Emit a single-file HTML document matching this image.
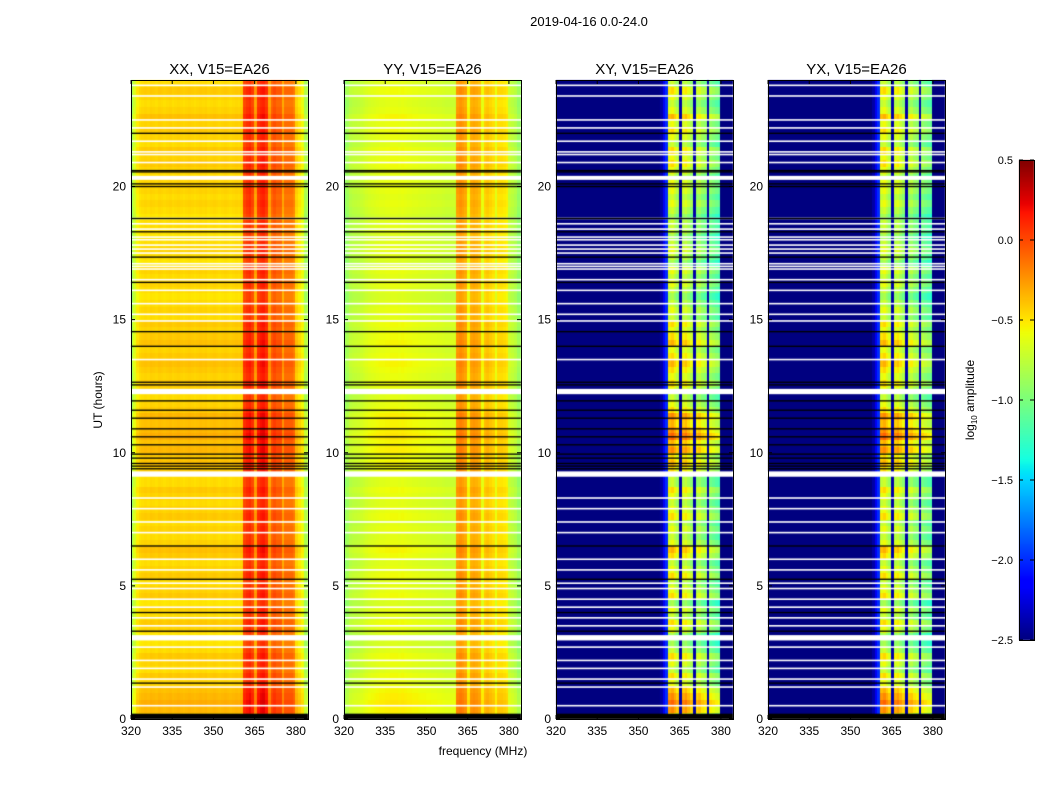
<!DOCTYPE html>
<html><head><meta charset="utf-8">
<style>
html,body{margin:0;padding:0;background:#fff;}
#wrap{position:relative;width:1050px;height:800px;font-family:"Liberation Sans",sans-serif;}
canvas,svg{position:absolute;left:0;top:0;}
</style></head>
<body>
<div id="wrap">
<canvas id="cv" width="1050" height="800"></canvas>
<svg id="sv" width="1050" height="800"></svg>
</div>
<script>
// ---- data ----
const panelTitles = ["XX, V15=EA26","YY, V15=EA26","XY, V15=EA26","YX, V15=EA26"];
const freqTicks = [320,335,350,365,380];
const timeTicks = [0,5,10,15,20];
const cbarTicks = [0.5,0.0,-0.5,-1.0,-1.5,-2.0,-2.5];
// log10 amplitude per 1 MHz channel starting at 320 MHz (64 channels)
const profileXX = [-0.9,-0.7,-0.55,-0.5,-0.48,-0.47,-0.48,-0.46,-0.47,-0.48,-0.46,-0.47,-0.48,-0.47,-0.46,-0.48,-0.47,-0.46,-0.47,-0.48,-0.47,-0.46,-0.47,-0.48,-0.47,-0.46,-0.47,-0.46,-0.48,-0.47,-0.46,-0.47,-0.48,-0.47,-0.46,-0.47,-0.48,-0.47,-0.46,-0.47,-0.45,0.0,0.05,0.08,0.0,-0.3,0.05,0.1,0.12,0.05,-0.3,-0.1,-0.05,-0.1,-0.1,-0.32,-0.15,-0.15,-0.15,-0.2,-0.45,-0.52,-0.6,-0.85];
const profileYY = [-0.95,-0.88,-0.8,-0.78,-0.77,-0.76,-0.74,-0.72,-0.7,-0.68,-0.67,-0.66,-0.65,-0.64,-0.64,-0.63,-0.63,-0.62,-0.62,-0.62,-0.63,-0.62,-0.63,-0.64,-0.64,-0.65,-0.65,-0.66,-0.67,-0.67,-0.68,-0.68,-0.69,-0.69,-0.7,-0.7,-0.71,-0.72,-0.72,-0.72,-0.72,-0.28,-0.25,-0.28,-0.32,-0.58,-0.34,-0.32,-0.34,-0.38,-0.62,-0.45,-0.42,-0.46,-0.5,-0.64,-0.5,-0.5,-0.52,-0.55,-0.75,-0.78,-0.82,-0.92];
const profileXY = [-2.6,-2.55,-2.5,-2.5,-2.55,-2.5,-2.55,-2.6,-2.55,-2.6,-2.6,-2.6,-2.55,-2.6,-2.6,-2.6,-2.6,-2.6,-2.6,-2.6,-2.6,-2.6,-2.6,-2.6,-2.6,-2.6,-2.6,-2.6,-2.6,-2.6,-2.6,-2.6,-2.6,-2.6,-2.6,-2.6,-2.6,-2.5,-2.4,-2.2,-2.0,-0.75,-0.7,-0.8,-0.9,-2.4,-0.8,-0.75,-0.85,-0.95,-2.4,-0.95,-0.9,-1.0,-1.05,-2.4,-1.05,-1.1,-1.15,-1.2,-2.6,-2.6,-2.6,-2.6];
const profileYX = profileXY;
// per 0.25 h row offset, 0 h upward (96 rows)
const rowOffset = [0.1,0.2,0.25,0.2, 0.15,0.05,0.1,0.0, 0.05,0.1,0.0,-0.05, -0.05,0.05,0.1,0.0, 0.05,-0.05,0.1,0.05, 0.0,0.1,0.05,0.0, 0.1,0.15,0.05,0.0, 0.05,0.0,0.1,0.05, 0.0,0.05,0.1,0.0, 0.0,0.1,0.15,0.1, 0.2,0.15,0.25,0.2, 0.15,0.2,0.1,0.05, 0.0,0.05,0.1,0.05, 0.1,0.15,0.1,0.05, 0.15,0.1,0.05,0.1, 0.0,0.05,0.0,-0.05, 0.0,0.05,0.0,0.05, -0.05,0.0,0.05,0.0, -0.05,0.0,0.0,-0.05, 0.0,0.05,0.0,0.05, 0.05,0.0,0.05,0.1, 0.05,0.1,0.0,0.05, 0.1,0.05,0.15,0.05, 0.0,0.05,0.1,0.0];
const rowScale = [0.6,0.5,2.5,2.5];
const whiteThin = [23.8,23.4,22.5,22.2,21.7,21.3,21.2,20.9,18.8,18.6,18.4,18.1,18.0,17.8,17.65,17.5,17.1,17.0,16.9,16.5,16.1,15.6,15.2,14.95,13.5,8.3,7.9,7.4,7.0,6.0,5.6,5.1,4.9,4.5,4.2,3.8,3.5,2.7,2.2,1.9,1.5,1.2,0.5];
const whiteThick = [[20.25,20.4],[12.2,12.4],[9.1,9.3],[2.95,3.15]];
const blackLines = [22.0,20.6,20.55,20.1,20.0,18.8,18.3,17.35,16.4,14.55,14.0,12.65,12.55,11.95,11.6,11.3,10.9,10.6,10.3,9.95,9.8,9.6,9.5,9.4,6.5,5.25,4.0,3.3,1.35];
const blackBands = [[0,0.2]];

// ---- layout ----
const panelX = [131,344,556,768], PW = 177, PT = 80, PB = 719;
const FMIN = 320, FMAX = 384.4, TMIN = 0, TMAX = 24;
const VMIN = -2.5, VMAX = 0.5;
const profiles = [profileXX,profileYY,profileXY,profileYX];
function xs(p,f){return panelX[p] + (f-FMIN)/(FMAX-FMIN)*PW;}
function ys(t){return PB - (t-TMIN)/(TMAX-TMIN)*(PB-PT);}
const JR=[[0,0],[0.35,0],[0.66,1],[0.89,1],[1,0.5]];
const JG=[[0,0],[0.125,0],[0.375,1],[0.64,1],[0.91,0],[1,0]];
const JB=[[0,0.5],[0.11,1],[0.34,1],[0.65,0],[1,0]];
function seg(s,x){for(let i=1;i<s.length;i++){if(x<=s[i][0]){const a=s[i-1],b=s[i];return a[1]+(b[1]-a[1])*(x-a[0])/(b[0]-a[0]);}}return s[s.length-1][1];}
function jet(v){
  let x=(v-VMIN)/(VMAX-VMIN); x=Math.max(0,Math.min(1,x));
  const c=a=>Math.round(255*Math.max(0,Math.min(1,a)));
  return `rgb(${c(seg(JR,x))},${c(seg(JG,x))},${c(seg(JB,x))})`;
}
const cv=document.getElementById('cv'), ctx=cv.getContext('2d');
for(let p=0;p<4;p++){
  const prof=profiles[p];
  for(let r=0;r<rowOffset.length;r++){
    const t0=r*0.25,t1=t0+0.25;
    const y0=ys(t1), y1=ys(t0);
    for(let c=0;c<prof.length;c++){
      const f0=FMIN+c, f1=(c===prof.length-1)?FMAX:f0+1;
      let v=prof[c];
      if(v>-2.0) v+=rowOffset[r]*rowScale[p];
      ctx.fillStyle=jet(v);
      const x0=xs(p,f0), x1=xs(p,f1);
      ctx.fillRect(Math.floor(x0),Math.floor(y0),Math.ceil(x1)-Math.floor(x0),Math.ceil(y1)-Math.floor(y0));
    }
  }
  ctx.fillStyle='#fff';
  whiteThin.forEach(t=>ctx.fillRect(panelX[p],ys(t)-0.8,PW,1.6));
  whiteThick.forEach(b=>ctx.fillRect(panelX[p],ys(b[1]),PW,ys(b[0])-ys(b[1])));
  ctx.fillStyle='#000';
  blackLines.forEach(t=>ctx.fillRect(panelX[p],ys(t)-0.6,PW,1.3));
  blackBands.forEach(b=>ctx.fillRect(panelX[p],ys(b[1]),PW,ys(b[0])-ys(b[1])));
}
// colorbar
const CBX=1019,CBW=15,CBT=160,CBB=640;
for(let y=CBT;y<CBB;y++){
  const v=VMAX-(y-CBT+0.5)/(CBB-CBT)*(VMAX-VMIN);
  ctx.fillStyle=jet(v); ctx.fillRect(CBX,y,CBW,1);
}
// ---- svg overlay ----
const NS='http://www.w3.org/2000/svg', sv=document.getElementById('sv');
function el(tag,attrs,txt){const e=document.createElementNS(NS,tag);for(const k in attrs)e.setAttribute(k,attrs[k]);if(txt!==undefined)e.textContent=txt;sv.appendChild(e);return e;}
let e;
e=el('text',{x:589,y:26,'font-size':13,'text-anchor':'middle'},'2019-04-16 0.0-24.0');


for(let p=0;p<4;p++){
  const x0=panelX[p];
  e=el('rect',{x:x0+0.5,y:PT+0.5,width:PW,height:PB-PT,fill:'none',stroke:'#000','stroke-width':1});
  
  
  e=el('text',{x:x0+PW/2,y:74,'font-size':15,'text-anchor':'middle'},panelTitles[p]);
  
  
  freqTicks.forEach(f=>{
    const x=xs(p,f);
    e=el('path',{d:`M${x} ${PB}v-4M${x} ${PT}v4`,stroke:'#000','stroke-width':1});
    
    
    e=el('text',{x:x,y:PB+16,'font-size':12,'text-anchor':'middle'},String(f));
    
    
  });
  timeTicks.forEach(t=>{
    const y=ys(t);
    e=el('path',{d:`M${x0} ${y}h4M${x0+PW} ${y}h-4`,stroke:'#000','stroke-width':1});
    
    
    e=el('text',{x:x0-5,y:y+4,'font-size':12,'text-anchor':'end'},String(t));
    
    
  });
}
e=el('text',{x:483,y:755,'font-size':12,'text-anchor':'middle'},'frequency (MHz)');


e=el('text',{x:102,y:400,'font-size':12,'text-anchor':'middle',transform:'rotate(-90 102 400)'},'UT (hours)');


e=el('rect',{x:CBX+0.5,y:CBT+0.5,width:CBW,height:CBB-CBT,fill:'none',stroke:'#000','stroke-width':1});


cbarTicks.forEach(v=>{
  const y=CBT+(VMAX-v)/(VMAX-VMIN)*(CBB-CBT);
  e=el('path',{d:`M${CBX} ${y}h4M${CBX+CBW} ${y}h-4`,stroke:'#000','stroke-width':1});
  
  
  e=el('text',{x:1013,y:y+4,'font-size':11,'text-anchor':'end'},(v<0?'\u2212':'')+Math.abs(v).toFixed(1));
  
  
});
e=el('text',{x:974,y:400,'font-size':12,'text-anchor':'middle',transform:'rotate(-90 974 400)'});


e.innerHTML='log<tspan font-size="8" dy="3">10</tspan><tspan dy="-3"> amplitude</tspan>';
</script>
</body></html>
